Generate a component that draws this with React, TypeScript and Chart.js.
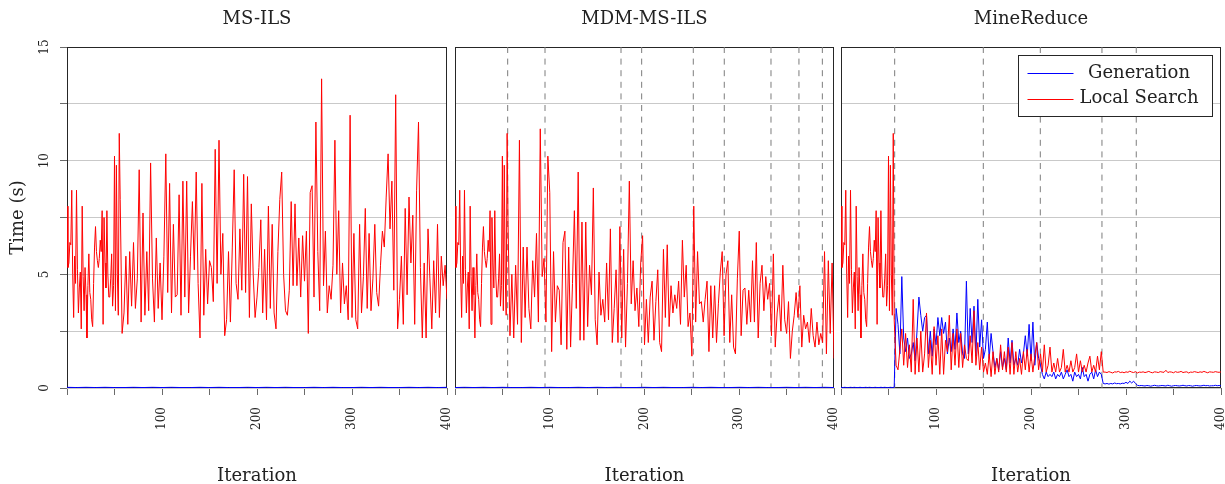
import React, { useEffect, useRef } from 'react';
import { Chart, registerables } from 'chart.js';

Chart.register(...registerables);

// ---------------- data ----------------
const panelTitles = ['MS-ILS', 'MDM-MS-ILS', 'MineReduce'];
const xTitle = 'Iteration';
const yTitle = 'Time (s)';
const seriesGeneration = 'Generation';
const seriesLocalSearch = 'Local Search';
const xMin = 0;
const xMax = 400;
const yMin = 0;
const yMax = 15;
const xTickStep = 50;
const yTickStep = 2.5;

// local-search time, iterations 0..55 (identical start for all three methods), step 1
const sharedWarmupLocal = [
  8.0, 5.3, 5.5, 6.4, 6.3, 8.7, 5.0, 3.1, 5.8, 4.6,
  8.7, 5.2, 3.3, 4.4, 5.1, 2.6, 8.0, 4.9, 3.4, 5.3,
  4.1, 2.2, 4.5, 5.9, 4.2, 3.9, 3.0, 2.7, 4.6, 6.2,
  7.1, 6.0, 5.6, 5.3, 5.7, 6.5, 6.0, 7.8, 2.8, 7.5,
  5.5, 4.4, 7.8, 5.0, 4.0, 4.0, 4.8, 5.9, 3.6, 4.5,
  10.2, 3.4, 9.8, 5.0, 3.2, 11.2,
];
const warmupStart = 0;
const warmupStep = 1;

// local-search time from iteration 56 to 400, step 2
const restStart = 56;
const restStep = 2;
const msIlsLocal = [
  8.3,
  2.4, 3.3, 5.8, 2.8, 6.0, 3.6, 6.4, 3.5, 4.8, 9.6,
  2.9, 7.7, 3.2, 6.0, 3.4, 9.9, 4.8, 2.9, 6.6, 3.5,
  5.5, 3.0, 5.8, 10.3, 4.2, 9.0, 3.3, 7.2, 4.0, 4.1,
  8.5, 3.2, 9.1, 4.0, 9.1, 3.3, 5.8, 8.2, 5.2, 9.5,
  4.6, 2.2, 9.0, 3.2, 6.1, 3.7, 5.6, 5.3, 3.8, 10.5,
  4.6, 10.9, 5.0, 6.8, 2.3, 3.0, 6.0, 2.9, 6.2, 9.6,
  4.6, 3.9, 7.0, 4.3, 9.4, 4.2, 9.3, 3.1, 8.1, 5.0,
  3.1, 4.0, 5.3, 7.4, 3.3, 6.1, 3.0, 8.0, 3.5, 7.2,
  3.3, 2.6, 6.0, 8.3, 9.5, 5.0, 3.4, 3.2, 4.3, 8.2,
  4.5, 8.1, 4.5, 6.6, 4.0, 6.7, 4.7, 6.9, 2.4, 8.6,
  8.9, 4.0, 11.7, 6.0, 3.4, 13.6, 4.5, 6.9, 3.3, 4.5,
  3.9, 5.4, 10.9, 5.0, 7.8, 3.3, 5.5, 3.7, 4.5, 3.0,
  12.0, 3.1, 6.8, 3.0, 2.6, 7.2, 3.3, 4.9, 7.9, 3.5,
  6.8, 3.4, 4.8, 7.2, 4.2, 3.6, 5.4, 6.9, 6.2, 8.4,
  10.3, 7.0, 9.1, 4.3, 12.9, 2.6, 3.9, 5.8, 2.8, 7.9,
  4.1, 8.4, 5.5, 7.6, 2.8, 8.7, 11.7, 5.3, 2.2, 5.5,
  2.2, 7.0, 4.8, 2.6, 5.6, 3.3, 7.2, 3.1, 5.8, 4.5,
  5.4, 3.9,
];
const mdmLocal = [
  7.2,
  2.3, 5.0, 2.2, 5.4, 2.8, 10.9, 2.0, 6.2, 3.1, 6.2,
  3.5, 2.6, 5.6, 4.0, 6.8, 2.9, 11.4, 4.9, 5.7, 2.9,
  10.2, 8.6, 1.6, 6.0, 2.9, 4.5, 4.3, 1.9, 6.4, 6.9,
  1.7, 6.2, 1.8, 4.6, 7.8, 3.5, 9.5, 2.1, 7.3, 2.1,
  7.3, 2.7, 5.4, 4.1, 8.8, 3.0, 1.9, 5.1, 3.2, 3.9,
  2.9, 5.5, 3.0, 7.0, 2.0, 3.5, 5.2, 2.0, 7.1, 2.2,
  6.1, 1.8, 4.6, 9.1, 3.7, 5.6, 3.4, 4.4, 2.7, 5.5,
  6.7, 1.9, 3.9, 2.0, 4.0, 4.7, 2.1, 3.8, 5.2, 2.0,
  1.6, 6.1, 3.1, 6.3, 2.7, 4.5, 3.3, 4.1, 3.5, 4.7,
  2.8, 6.5, 4.0, 5.4, 2.7, 3.3, 1.4, 8.0, 2.9, 6.0,
  3.7, 3.8, 2.9, 3.9, 4.7, 1.6, 4.5, 2.2, 4.5, 2.0,
  3.7, 5.1, 6.0, 2.3, 5.0, 5.6, 2.0, 4.1, 1.8, 1.5,
  4.8, 6.9, 2.3, 4.3, 4.4, 2.8, 4.3, 2.9, 5.6, 2.9,
  6.4, 2.2, 4.6, 5.4, 3.4, 4.9, 3.9, 4.6, 2.3, 5.9,
  1.8, 3.3, 4.1, 2.5, 5.4, 3.0, 2.4, 3.8, 1.3, 2.5,
  3.2, 4.2, 3.1, 4.5, 1.8, 3.2, 2.6, 2.9, 2.0, 3.5,
  2.3, 1.8, 2.9, 1.9, 2.4, 2.0, 6.0, 1.5, 5.6, 2.4,
  5.5, 1.3,
];
const mineLocal = [
  3.0,
  1.0, 0.8, 1.7, 2.6, 1.0, 2.4, 0.9, 1.9, 0.7, 3.9,
  0.6, 2.2, 0.7, 2.5, 0.7, 1.5, 3.3, 0.9, 2.1, 0.6,
  2.7, 1.0, 2.3, 0.6, 2.6, 0.6, 2.1, 1.6, 3.2, 0.8,
  2.4, 1.0, 2.6, 0.9, 2.4, 0.9, 1.9, 1.3, 1.2, 2.3,
  1.1, 3.4, 1.0, 2.0, 0.8, 1.8, 0.7, 1.1, 0.6, 1.5,
  0.5, 1.6, 0.6, 1.3, 0.7, 1.9, 0.8, 1.6, 0.7, 1.8,
  0.6, 2.0, 0.6, 1.6, 0.7, 1.3, 0.6, 1.6, 0.8, 1.7,
  0.7, 1.5, 0.7, 1.4, 2.0, 0.8, 1.5, 0.7, 1.9, 0.7,
  1.0, 1.8, 0.7, 1.1, 0.7, 1.3, 0.7, 0.9, 1.7, 0.7,
  1.0, 0.7, 1.2, 0.7, 0.9, 1.5, 0.7, 1.2, 0.7, 1.0,
  0.7, 1.1, 1.4, 0.7, 1.0, 0.7, 1.4, 0.8, 1.6, 0.7,
  0.70, 0.68, 0.72, 0.69, 0.66, 0.71, 0.70, 0.73, 0.68, 0.70,
  0.67, 0.71, 0.69, 0.74, 0.70, 0.68, 0.72, 0.66, 0.70, 0.69,
  0.71, 0.68, 0.70, 0.73, 0.69, 0.67, 0.71, 0.70, 0.68, 0.72,
  0.70, 0.69, 0.78, 0.68, 0.71, 0.70, 0.67, 0.72, 0.69, 0.70,
  0.73, 0.68, 0.70, 0.71, 0.66, 0.70, 0.69, 0.72, 0.70, 0.68,
  0.71, 0.69, 0.73, 0.70, 0.67, 0.71, 0.70, 0.69, 0.72, 0.70,
  0.69, 0.71,
];

// generation time
const genCoarseStart = 0;
const genCoarseStep = 10;
const msIlsGen = [
  0.03, 0.02, 0.03, 0.02, 0.03, 0.02, 0.02, 0.03, 0.02, 0.03,
  0.02, 0.03, 0.02, 0.02, 0.03, 0.02, 0.03, 0.02, 0.02, 0.03,
  0.02, 0.03, 0.02, 0.03, 0.02, 0.02, 0.03, 0.02, 0.03, 0.02,
  0.02, 0.03, 0.02, 0.03, 0.02, 0.02, 0.03, 0.02, 0.03, 0.02,
  0.03,
];
const mdmGen = [
  0.02, 0.03, 0.02, 0.03, 0.02, 0.03, 0.02, 0.02, 0.03, 0.02,
  0.03, 0.02, 0.02, 0.03, 0.02, 0.03, 0.02, 0.03, 0.02, 0.02,
  0.03, 0.02, 0.03, 0.02, 0.02, 0.03, 0.02, 0.03, 0.02, 0.02,
  0.03, 0.02, 0.03, 0.02, 0.02, 0.03, 0.02, 0.03, 0.02, 0.03,
  0.02,
];
const mineGenStart = 0;
const mineGenStep = 2;
const mineGen = [
  0.03, 0.02, 0.03, 0.02, 0.02, 0.03, 0.02, 0.03, 0.02, 0.02,
  0.03, 0.02, 0.02, 0.03, 0.02, 0.03, 0.02, 0.02, 0.03, 0.02,
  0.02, 0.03, 0.02, 0.03, 0.02, 0.02, 0.03, 0.02, 0.03,
  3.5, 2.8, 1.5, 4.9, 2.2, 1.6, 2.2, 1.3, 1.5, 2.0,
  1.2, 2.5, 4.0, 3.2, 2.5, 3.1, 3.2, 1.5, 2.5, 1.4,
  2.6, 1.9, 3.1, 2.3, 3.1, 2.4, 2.9, 1.5, 2.2, 1.6,
  2.6, 1.7, 3.3, 2.0, 2.5, 1.5, 1.3, 4.7, 1.5, 3.5,
  2.0, 3.6, 1.4, 3.9, 1.8, 3.0, 1.3, 1.7, 2.9, 1.3,
  2.4, 1.6, 0.9, 1.3, 0.8, 1.6, 0.9, 1.3, 0.8, 2.2,
  1.1, 2.1, 1.0, 1.3, 1.0, 1.7, 1.1, 1.5, 2.3, 1.4,
  2.8, 1.2, 2.9, 1.0, 2.0, 1.3, 1.0, 0.6, 0.4, 0.7,
  0.5, 0.6, 0.5, 0.7, 0.4, 0.6, 0.5, 0.7, 0.4, 0.6,
  0.8, 0.5, 0.6, 0.3, 0.7, 0.5, 0.6, 0.4, 0.9, 0.5,
  0.6, 0.3, 0.6, 0.7, 0.4, 0.8, 0.5, 0.7, 0.6, 0.2,
  0.18, 0.2, 0.17, 0.2, 0.18, 0.22, 0.19, 0.2, 0.18, 0.21,
  0.2, 0.25, 0.2, 0.3, 0.22, 0.3, 0.2, 0.12, 0.1, 0.11,
  0.1, 0.09, 0.11, 0.1, 0.08, 0.1, 0.12, 0.1, 0.09, 0.1,
  0.11, 0.1, 0.09, 0.12, 0.1, 0.08, 0.1, 0.11, 0.1, 0.09,
  0.1, 0.12, 0.1, 0.09, 0.11, 0.1, 0.08, 0.1, 0.11, 0.1,
  0.09, 0.1, 0.12, 0.1, 0.11, 0.09, 0.1, 0.1, 0.12, 0.1,
  0.11, 0.1,
];

// iterations with a restart / re-mining (dashed markers)
const msIlsRestarts: number[] = [];
const mdmRestarts = [55.6, 95, 175.2, 197, 251.5, 284.2, 333.5, 363, 387.7];
const mineRestarts = [56.5, 149.8, 209.8, 274.7, 310.8];

// ---------------- styling ----------------
const FONT = "'DejaVu Serif', serif";
const TEXT = '#222222';
const RED = '#ff0000';
const BLUE = '#0000ff';
const GRID = '#c9c9c9';
const TICK = '#6a6a6a';
const DASH = '#7c7c7c';
const FRAME = '#262626';

const CANVAS_H = 484;
const PANELS = [
  { left: 0, width: 460, yAxisWidth: 67, padRight: 13 },
  { left: 445, width: 400, yAxisWidth: 10, padRight: 11 },
  { left: 831, width: 394, yAxisWidth: 10, padRight: 4 },
];
const X_AXIS_H = 96;

function toPoints(values: number[], start: number, step: number) {
  return values.map((v, i) => ({ x: start + i * step, y: v }));
}

const localSeries = [
  [...toPoints(sharedWarmupLocal, warmupStart, warmupStep), ...toPoints(msIlsLocal, restStart, restStep)],
  [...toPoints(sharedWarmupLocal, warmupStart, warmupStep), ...toPoints(mdmLocal, restStart, restStep)],
  [...toPoints(sharedWarmupLocal, warmupStart, warmupStep), ...toPoints(mineLocal, restStart, restStep)],
];
const genSeries = [
  toPoints(msIlsGen, genCoarseStart, genCoarseStep),
  toPoints(mdmGen, genCoarseStart, genCoarseStep),
  toPoints(mineGen, mineGenStart, mineGenStep),
];
const restartSeries = [msIlsRestarts, mdmRestarts, mineRestarts];

const framePlugin = {
  id: 'frame',
  beforeDatasetsDraw(chart: any) {
    const { ctx, chartArea: a } = chart;
    ctx.save();
    ctx.strokeStyle = FRAME;
    ctx.lineWidth = 1;
    const l = Math.round(a.left) + 0.5;
    const t = Math.round(a.top) + 0.5;
    const r = Math.round(a.right) - 0.5;
    const b = Math.round(a.bottom) - 0.5;
    ctx.strokeRect(l, t, r - l, b - t);
    ctx.restore();
  },
};

const boxLegendPlugin = {
  id: 'boxLegend',
  afterDraw(chart: any, _args: any, opts: any) {
    if (!opts || !opts.display) return;
    const { ctx, chartArea: a } = chart;
    const items: { label: string; color: string }[] = opts.items;
    ctx.save();
    ctx.font = `18px ${FONT}`;
    const textW = Math.max(...items.map((it) => ctx.measureText(it.label).width));
    const padL = 9;
    const lineLen = 46;
    const gap = 6;
    const padR = 14;
    const rowH = 25.6;
    const w = padL + lineLen + gap + textW + padR;
    const h = 10 + rowH * items.length;
    const right = Math.round(a.right - 9) + 0.5;
    const top = Math.round(a.top + 8) + 0.5;
    const left = Math.round(right - w) + 0.5;
    ctx.fillStyle = '#ffffff';
    ctx.fillRect(left, top, right - left, h);
    ctx.strokeStyle = FRAME;
    ctx.lineWidth = 1;
    ctx.strokeRect(left, top, right - left, Math.round(h));
    items.forEach((it, i) => {
      const cy = top + 17.5 + i * rowH;
      ctx.beginPath();
      ctx.strokeStyle = it.color;
      ctx.lineWidth = 1.2;
      ctx.moveTo(left + padL, Math.round(cy) + 0.5);
      ctx.lineTo(left + padL + lineLen, Math.round(cy) + 0.5);
      ctx.stroke();
      ctx.fillStyle = TEXT;
      ctx.textAlign = 'center';
      ctx.textBaseline = 'middle';
      ctx.fillText(it.label, left + padL + lineLen + gap + textW / 2, cy);
    });
    ctx.restore();
  },
};

function buildConfig(i: number): any {
  const p = PANELS[i];
  const first = i === 0;
  const datasets: any[] = [
    {
      label: seriesLocalSearch,
      data: localSeries[i],
      borderColor: RED,
      backgroundColor: RED,
      borderWidth: 1,
      pointRadius: 0,
      tension: 0,
      order: 1,
    },
    {
      label: seriesGeneration,
      data: genSeries[i],
      borderColor: BLUE,
      backgroundColor: BLUE,
      borderWidth: 1,
      pointRadius: 0,
      tension: 0,
      order: 2,
    },
    ...restartSeries[i].map((x) => ({
      label: 'restart',
      data: [
        { x, y: yMax },
        { x, y: yMin },
      ],
      borderColor: DASH,
      borderWidth: 1,
      borderDash: [6, 5.6],
      pointRadius: 0,
      order: 3,
    })),
  ];
  return {
    type: 'line',
    data: { datasets },
    options: {
      responsive: false,
      maintainAspectRatio: false,
      animation: false,
      events: [],
      layout: { padding: { left: 0, right: p.padRight, top: 0, bottom: 0 } },
      plugins: {
        legend: { display: false },
        tooltip: { enabled: false },
        title: {
          display: true,
          text: panelTitles[i],
          color: TEXT,
          font: { family: FONT, size: 18, weight: 'normal' },
          padding: { top: 9, bottom: 16.4 },
          fullSize: false,
        },
        boxLegend: {
          display: i === 2,
          items: [
            { label: seriesGeneration, color: BLUE },
            { label: seriesLocalSearch, color: RED },
          ],
        },
      },
      scales: {
        x: {
          type: 'linear',
          min: xMin,
          max: xMax,
          border: { display: false },
          grid: {
            display: true,
            drawOnChartArea: false,
            drawTicks: true,
            tickLength: 7,
            tickColor: TICK,
          },
          ticks: {
            stepSize: xTickStep,
            autoSkip: false,
            minRotation: 90,
            maxRotation: 90,
            padding: 12,
            color: TEXT,
            font: { family: FONT, size: 12 },
            callback: (v: any) => (v % 100 === 0 && v !== 0 ? String(v) : ''),
          },
          title: {
            display: true,
            text: xTitle,
            color: TEXT,
            font: { family: FONT, size: 18, weight: 'normal' },
            padding: { top: 0, bottom: -3 },
          },
          afterFit: (s: any) => {
            s.height = X_AXIS_H;
            s.paddingLeft = 0;
            s.paddingRight = 0;
          },
        },
        y: {
          type: 'linear',
          min: yMin,
          max: yMax,
          border: { display: false },
          grid: {
            color: GRID,
            lineWidth: 1,
            drawTicks: first,
            tickLength: 7,
            tickColor: TICK,
          },
          ticks: {
            display: first,
            stepSize: yTickStep,
            minRotation: 90,
            maxRotation: 90,
            crossAlign: 'center',
            padding: 7,
            color: TEXT,
            font: { family: FONT, size: 12 },
            callback: (v: any) => (v % 5 === 0 ? String(v) : ''),
          },
          title: {
            display: first,
            text: yTitle,
            color: TEXT,
            font: { family: FONT, size: 18, weight: 'normal' },
            padding: { top: 8, bottom: 0 },
          },
          afterFit: (s: any) => {
            s.width = p.yAxisWidth;
            s.paddingTop = 0;
            s.paddingBottom = 0;
          },
        },
      },
    },
    plugins: [framePlugin, boxLegendPlugin],
  };
}

function Panel({ index }: { index: number }) {
  const ref = useRef<HTMLCanvasElement>(null);
  useEffect(() => {
    if (!ref.current) return;
    const chart = new Chart(ref.current, buildConfig(index));
    return () => chart.destroy();
  }, [index]);
  const p = PANELS[index];
  return (
    <canvas
      ref={ref}
      width={p.width}
      height={CANVAS_H}
      style={{ position: 'absolute', left: p.left, top: 0, width: p.width, height: CANVAS_H }}
    />
  );
}

export default function App() {
  return (
    <div
      style={{
        position: 'fixed',
        left: 0,
        top: 0,
        width: 1225,
        height: 484,
        background: '#ffffff',
        overflow: 'hidden',
      }}
    >
      <Panel index={0} />
      <Panel index={1} />
      <Panel index={2} />
    </div>
  );
}
